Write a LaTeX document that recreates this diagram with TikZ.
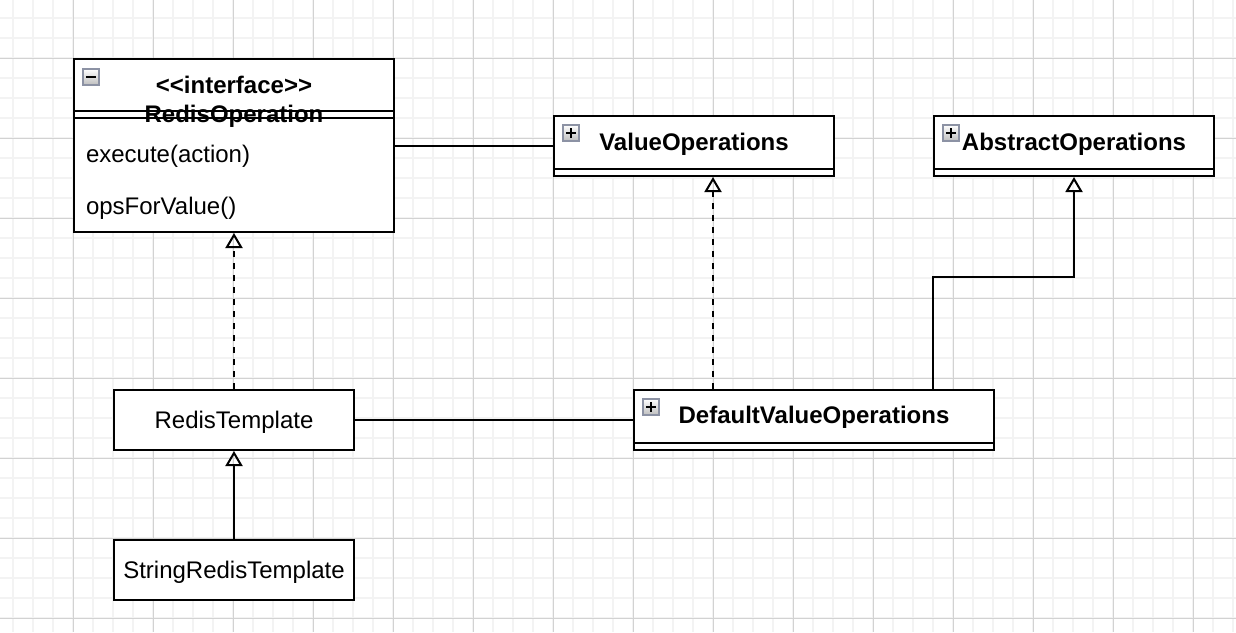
\documentclass[tikz,border=0pt]{standalone}
\usepackage{fontspec}
\setmainfont{Liberation Sans}[Ligatures=TeXOff]
\usetikzlibrary{arrows.meta,positioning}
\definecolor{gridminor}{RGB}{243,243,243}
\definecolor{gridmajor}{RGB}{210,210,210}
\definecolor{iconedge}{RGB}{140,146,164}

\begin{document}
\begin{tikzpicture}[x=1pt,y=-1pt,line width=2pt,font=\fontsize{24}{28}\selectfont,
  classbox/.style={draw,fill=white,inner sep=0pt,anchor=north west,minimum height=60pt},
  plainbox/.style={classbox,minimum width=240pt,text height=20pt,text depth=4pt},
  classname/.style={font=\fontsize{24}{28}\selectfont\bfseries,anchor=base,inner sep=0pt},
  member/.style={anchor=base west,inner sep=0pt},
  toggle/.style={draw=iconedge,line width=1.5pt,top color=white,bottom color=black!25,minimum size=16pt,inner sep=0pt,anchor=north west},
  minusicon/.style={toggle,path picture={\draw[black,line width=2pt] ([xshift=-5pt]path picture bounding box.center) -- ([xshift=5pt]path picture bounding box.center);}},
  plusicon/.style={toggle,path picture={\draw[black,line width=2pt] ([xshift=-5pt]path picture bounding box.center) -- ([xshift=5pt]path picture bounding box.center) ([yshift=-5pt]path picture bounding box.center) -- ([yshift=5pt]path picture bounding box.center);}},
  inherit/.style={-{Triangle[open,length=15pt,width=17pt]}},
  realize/.style={inherit,dash pattern=on 6pt off 6pt},
  assoc/.style={-}]
\useasboundingbox (0,0) rectangle (1236,632);
\fill[white] (0,0) rectangle (1236,632);
\foreach \gx in {13,33,...,1233} \draw[gridminor,line width=1.5pt] (\gx,0) -- (\gx,632);
\foreach \gy in {18,38,...,618} \draw[gridminor,line width=1.5pt] (0,\gy) -- (1236,\gy);
\foreach \gx in {73,153,...,1193} \draw[gridmajor,line width=1pt] (\gx,0) -- (\gx,632);
\foreach \gy in {58,138,...,618} \draw[gridmajor,line width=1pt] (0,\gy) -- (1236,\gy);

% interface
\node[classbox,minimum width=320pt,minimum height=173pt] (redisop) at (73,58) {};
\node[minusicon] (redisop-icon) at ([xshift=9pt,yshift=-10pt]redisop.north west) {};
\node[classname] (redisop-stereo) at ([yshift=-35pt]redisop.north) {<\kern0pt<interface>\kern0pt>};
\node[classname] (redisop-name) at ([yshift=-64pt]redisop.north) {RedisOperation};
\draw ([yshift=-53pt]redisop.north west) -- ([yshift=-53pt]redisop.north east);
\draw ([yshift=-60pt]redisop.north west) -- ([yshift=-60pt]redisop.north east);
\node[member] (redisop-exec) at ([xshift=12pt,yshift=-104pt]redisop.north west) {execute(action)};
\node[member] (redisop-ops) at ([xshift=12pt,yshift=-156pt]redisop.north west) {opsForValue()};

% collapsed classes
\node[classbox,minimum width=280pt] (valueops) at (553,115) {};
\node[plusicon] (valueops-icon) at ([xshift=9pt,yshift=-9pt]valueops.north west) {};
\node[classname] (valueops-name) at ([yshift=-35pt]valueops.north) {ValueOperations};
\draw ([yshift=8pt]valueops.south west) -- ([yshift=8pt]valueops.south east);

\node[classbox,minimum width=280pt] (absops) at (933,115) {};
\node[classname] (absops-name) at ([yshift=-35pt]absops.north) {AbstractOperations};
\node[plusicon] (absops-icon) at ([xshift=9pt,yshift=-9pt]absops.north west) {};
\draw ([yshift=8pt]absops.south west) -- ([yshift=8pt]absops.south east);

\node[classbox,minimum width=360pt] (dvo) at (633,389) {};
\node[plusicon] (dvo-icon) at ([xshift=9pt,yshift=-9pt]dvo.north west) {};
\node[classname] (dvo-name) at ([yshift=-34pt]dvo.north) {DefaultValueOperations};
\draw ([yshift=8pt]dvo.south west) -- ([yshift=8pt]dvo.south east);

% templates
\node[plainbox] (redistpl) at (113,389) {RedisTemplate};
\node[plainbox] (strtpl) at (113,539) {StringRedisTemplate};

\draw[assoc] (redisop.east) -- (redisop.east -| valueops.west);
\draw[realize] (redistpl.north) -- (redisop.south);
\draw[inherit] (strtpl.north) -- (redistpl.south);
\draw[assoc] (redistpl.east) -- (redistpl.east -| dvo.west);
\draw[realize] ([xshift=80pt]dvo.north west) -- ([xshift=80pt]dvo.north west |- valueops.south);
\draw[inherit] ([xshift=300pt]dvo.north west) |- ([yshift=-100pt]absops.south) -- (absops.south);
\end{tikzpicture}
\end{document}
